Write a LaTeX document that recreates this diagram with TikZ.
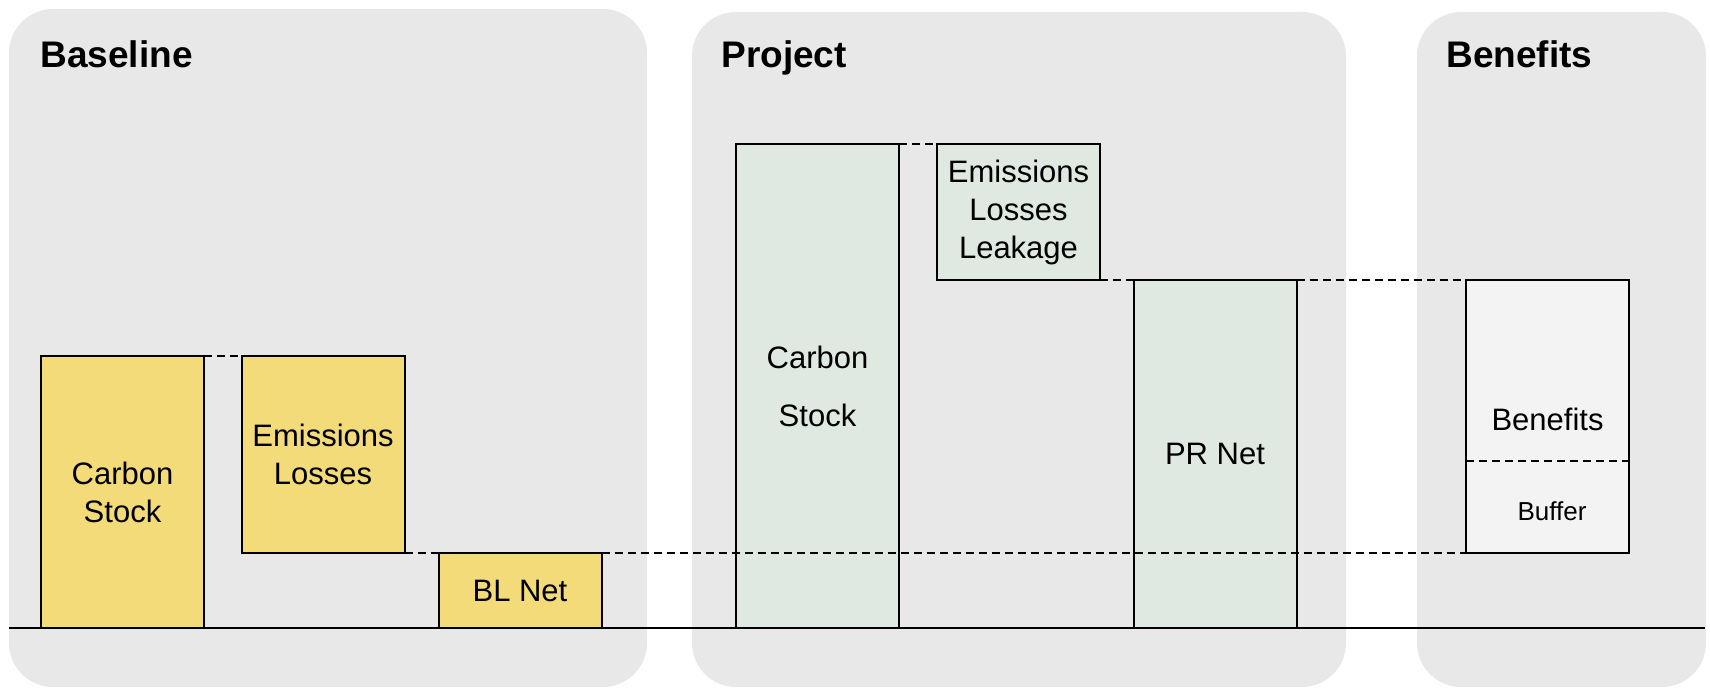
\documentclass[tikz,border=0pt]{standalone}
\usepackage{fontspec}
\setmainfont{Liberation Sans}
\usepackage{tikz}
\usetikzlibrary{positioning,calc}
\pgfdeclarelayer{background}
\pgfsetlayers{background,main}

\definecolor{PanelGray}{HTML}{E8E8E8}
\definecolor{BLYellow}{HTML}{F3DB79}
\definecolor{PRGreen}{HTML}{DFE8E1}
\definecolor{BNWhite}{HTML}{F3F3F3}

\begin{document}
\begin{tikzpicture}[x=0.5pt,y=-0.5pt]

    \tikzset{PN/.style={fill=PanelGray,rounded corners=22pt}}
    \tikzset{TT/.style={anchor=base west,inner sep=0pt,font=\fontsize{18.5}{22}\selectfont\bfseries}}
    \tikzset{BX/.style={draw=black,line width=1pt,inner sep=0pt,outer sep=0pt,minimum width=81.5pt,align=center,font=\fontsize{15.5}{19}\selectfont}}
    \tikzset{YB/.style={BX,fill=BLYellow}}
    \tikzset{GB/.style={BX,fill=PRGreen}}
    \tikzset{WB/.style={BX,fill=BNWhite}}
    \tikzset{DL/.style={draw=black,line width=0.9pt,dash pattern=on 4pt off 2.5pt}}
    \tikzset{GL/.style={draw=black,line width=1pt}}

    \useasboundingbox (0,0) rectangle (1710,688);

    \node (tbl) [TT] at (40, 68) {Baseline};
    \node (tpr) [TT] at (721, 68) {Project};
    \node (tbn) [TT] at (1446, 68) {Benefits};

    \node (blcs) [YB, minimum height=136pt] at (122.5, 492) {Carbon\\Stock};
    \node (blel) [YB, minimum height=98.5pt] at (323, 454.5) {Emissions\\Losses};
    \node (blnet) [YB, minimum height=37.5pt] at (520, 590.5) {BL Net};

    \node (prcs) [GB, minimum height=242pt] at (817.5, 386) {Carbon\\[10pt]Stock};
    \node (prel) [GB, minimum height=68pt] at (1018.5, 212) {Emissions\\Losses\\Leakage};
    \node (prnet) [GB, minimum height=174pt] at (1215, 454) {PR Net};

    \node (ben) [WB, minimum height=136.5pt] at (1547.5, 416.5) {};
    \node (bentxt) [font=\fontsize{15.5}{19}\selectfont] at (1547.5, 419) {Benefits};
    \node (buf) [font=\fontsize{13}{16}\selectfont] at (1552, 511) {Buffer};
    \coordinate (dv0) at (1466, 461);
    \coordinate (dv1) at (1629, 461);

    \coordinate (g0) at (9, 628);
    \coordinate (g1) at (1705, 628);

    \begin{pgfonlayer}{background}
        \path[PN] (9, 9) rectangle (647, 687);
        \path[PN] (692, 12) rectangle (1346, 687);
        \path[PN] (1417, 12) rectangle (1706, 687);
    \end{pgfonlayer}

    \path[GL] (g0) -- (g1);
    \path[DL] (dv0) -- (dv1);
    \path[DL] (blcs.north east) -- (blel.north west);
    \path[DL] (blel.south east) -- (blnet.north west);
    \path[DL] (blnet.north east) -- (ben.south west);
    \path[DL] (prcs.north east) -- (prel.north west);
    \path[DL] (prel.south east) -- (prnet.north west);
    \path[DL] (prnet.north east) -- (ben.north west);
\end{tikzpicture}
\end{document}
